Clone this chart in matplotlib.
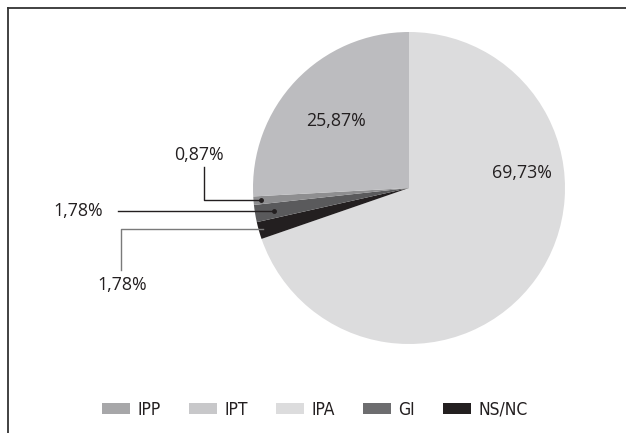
import numpy as np
import matplotlib
matplotlib.use('Agg')
import matplotlib.pyplot as plt
from matplotlib.patches import Patch
from matplotlib.lines import Line2D

# datos
categorias = ['IPA', 'NS/NC', 'GI', 'IPT', 'IPP']
valores = [69.73, 1.78, 1.78, 0.87, 25.87]
etiquetas = ['69,73%', '1,78%', '1,78%', '0,87%', '25,87%']
colores_pie = ['#dcdcdd', '#231f20', '#5a5a5c', '#8e8e90', '#bcbcbf']

leyenda = ['IPP', 'IPT', 'IPA', 'GI', 'NS/NC']
colores_ley = ['#a7a7a9', '#c8c8ca', '#dcdcdd', '#6d6d6f', '#231f20']

plt.rcParams['font.family'] = ['Open Sans', 'DejaVu Sans']

W, H = 626, 433
fig = plt.figure(figsize=(W/100, H/100), dpi=100)
ax = fig.add_axes([0, 0, 1, 1])
ax.set_xlim(0, W); ax.set_ylim(0, H)
ax.axis('off')

cx, cy, R = 409, H-188, 156
wedges, _ = ax.pie(valores, colors=colores_pie, startangle=90, counterclock=False,
                   center=(cx, cy), radius=R, wedgeprops=dict(linewidth=0))
ax.set_aspect('equal')
ax.set_xlim(0, W); ax.set_ylim(0, H)

def punto(i, r):
    w = wedges[i]
    a = np.deg2rad((w.theta1 + w.theta2) / 2)
    return cx + r*np.cos(a), cy + r*np.sin(a)

tx = dict(fontsize=12.8, ha='center', va='center', color='#231f20', fontweight='normal')

# etiquetas dentro
ax.text(522, H-173, etiquetas[0], **tx)
ax.text(336, H-121, etiquetas[4], **tx)

# 0,87% (IPT)
x, y = punto(3, 0.95*R)
ax.plot([204, 204, x], [H-167, y, y], color='#231f20', lw=1)
ax.plot(x, y, 'o', ms=2.5, color='#231f20')
ax.text(199, H-155, etiquetas[3], **tx)

# 1,78% (GI)
x, y = punto(2, 0.88*R)
ax.plot([118, x], [y, y], color='#231f20', lw=1)
ax.plot(x, y, 'o', ms=2.5, color='#231f20')
ax.text(78, y, etiquetas[2], **tx)

# 1,78% (NS/NC)
x, y = punto(1, 0.97*R)
ax.plot([121, 121, x], [H-270, y, y], color='#7a7a7a', lw=1)
ax.text(122, H-285, etiquetas[1], **tx)

# marco
fig.add_artist(Line2D([8/W, 1], [1-8/H, 1-8/H], color='#333333', lw=1.3))
fig.add_artist(Line2D([8/W, 8/W], [0, 1-8/H], color='#333333', lw=1.3))

handles = [Patch(facecolor=c, edgecolor='none') for c in colores_ley]
fig.legend(handles, leyenda, loc='center', bbox_to_anchor=(315/W, 1-410/H), ncol=5,
           frameon=False, prop=dict(family='DejaVu Sans', stretch='condensed', size=12.5),
           handlelength=1.6, handleheight=0.6,
           handletextpad=0.45, columnspacing=1.6, labelcolor='#231f20')

fig.savefig('out.png', dpi=100)
